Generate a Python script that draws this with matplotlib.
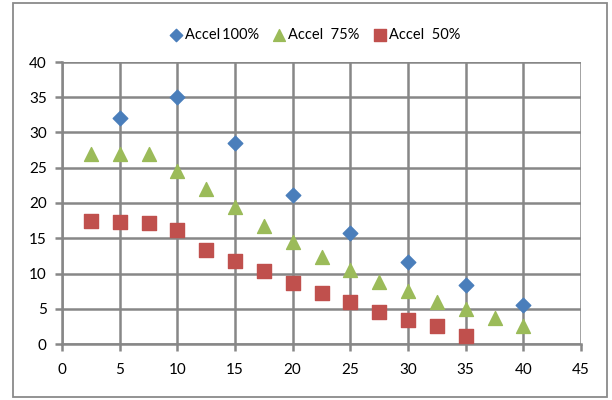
import matplotlib
matplotlib.use("Agg")
import matplotlib.pyplot as plt
from matplotlib.patches import Rectangle

x100 = [5, 10, 15, 20, 25, 30, 35, 40]
y100 = [32, 35, 28.5, 21.2, 15.8, 11.6, 8.3, 5.6]
x75 = [2.5, 5, 7.5, 10, 12.5, 15, 17.5, 20, 22.5, 25, 27.5, 30, 32.5, 35, 37.5, 40]
y75 = [27, 27, 27, 24.5, 22, 19.5, 16.8, 14.5, 12.4, 10.5, 8.8, 7.5, 6.0, 4.9, 3.7, 2.5]
x50 = [2.5, 5, 7.5, 10, 12.5, 15, 17.5, 20, 22.5, 25, 27.5, 30, 32.5, 35]
y50 = [17.4, 17.3, 17.2, 16.2, 13.4, 11.8, 10.4, 8.6, 7.3, 5.9, 4.6, 3.4, 2.5, 1.1]
labels = ["Accel\u2009100%", "Accel  75%", "Accel  50%"]

plt.rcParams['font.family'] = ['Lato', 'DejaVu Sans']
fig = plt.figure(figsize=(6.12, 4.0), dpi=100)
fig.patches.append(Rectangle((12.5/612, 3/400), 594/612, 394/400, transform=fig.transFigure,
                             fill=False, edgecolor='#8a8a8a', linewidth=1.3))
ax = fig.add_axes([62/612, 1-344/400, (581-62)/612, (344-62)/400])

gc = '#878787'
ax.scatter(x100, y100, marker='D', s=55, color='#4a7ebb', label=labels[0], zorder=3)
ax.scatter(x75, y75, marker='^', s=100, color='#9bbb59', label=labels[1], zorder=3)
ax.scatter(x50, y50, marker='s', s=100, color='#c0504d', label=labels[2], zorder=3)

ax.set_xlim(0, 45)
ax.set_ylim(0, 40)
ax.set_xticks(range(0, 46, 5))
ax.set_yticks(range(0, 41, 5))
ax.grid(True, color=gc, linewidth=1.8)
ax.set_axisbelow(True)
for s in ['top', 'right']:
    ax.spines[s].set_visible(False)
for s in ['left', 'bottom']:
    ax.spines[s].set_color(gc)
    ax.spines[s].set_linewidth(1.8)
ax.tick_params(axis='both', colors=gc, length=5, width=1.8, labelsize=11, labelcolor='black')
ax.tick_params(axis='x', pad=9)
ax.tick_params(axis='y', pad=6)

fig.legend(loc='center', bbox_to_anchor=(0.51, 1-35/400), ncol=3, frameon=False,
           fontsize=10.5, handletextpad=-0.2, columnspacing=0.6, handlelength=1.6,
           markerscale=0.85)

fig.savefig('out.png', dpi=100)
